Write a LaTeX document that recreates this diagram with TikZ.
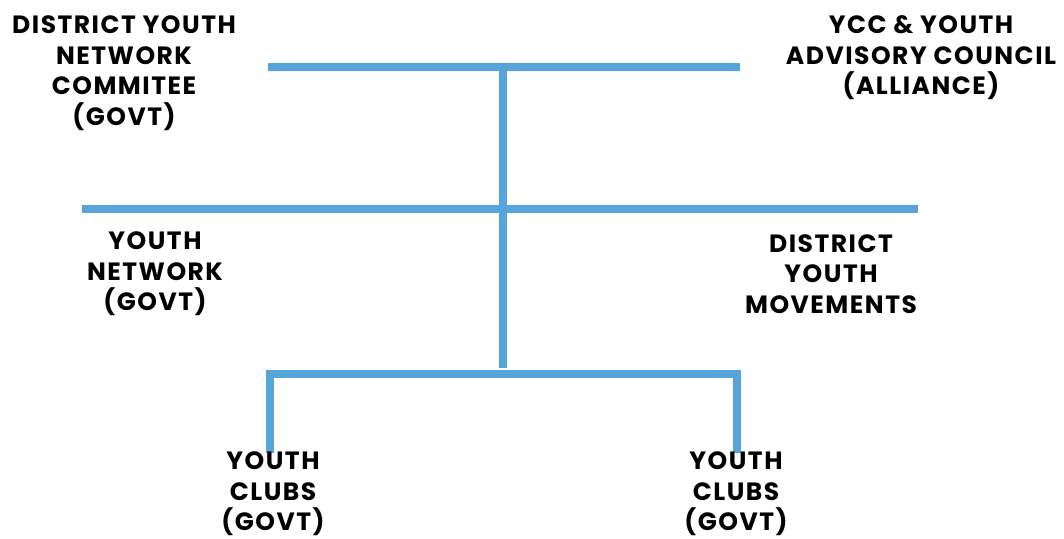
\documentclass[tikz,border=0pt]{standalone}
\usepackage{fontspec}
\setmainfont{Poppins}[BoldFont={* Bold},BoldFeatures={LetterSpace=6}]
\begin{document}
\begin{tikzpicture}[x=1pt,y=-1pt,
  conn/.style={draw=lineblue,line width=8pt},
  lbl/.style={align=center,font=\fontsize{25}{30.5}\selectfont\bfseries,text=black,inner sep=0pt}]
\definecolor{lineblue}{HTML}{55A5DA}
\useasboundingbox (0,0) rectangle (1064,538);
% coordinates
\coordinate (t1) at (268,67);
\coordinate (t2) at (740,67);
\coordinate (tc) at (503,63);
\coordinate (m1) at (82,209);
\coordinate (m2) at (918,209);
\coordinate (mc) at (503,368);
\coordinate (bl) at (270,449);
\coordinate (br) at (737,449);
\coordinate (blc) at (270,374);
\coordinate (brc) at (737,374);
% lines
\draw[conn] (t1) -- (t2);
\draw[conn] (tc) -- (mc);
\draw[conn] (m1) -- (m2);
\draw[conn,line cap=rect] (bl) -- (blc) -- (brc) -- (br);
% labels
\node[lbl] (dync) at (124,73) {DISTRICT YOUTH\\NETWORK\\COMMITEE\\(GOVT)};
\node[lbl] (ycc) at (921,58) {YCC \& YOUTH\\ADVISORY COUNCIL\\(ALLIANCE)};
\node[lbl] (yn) at (155,274) {YOUTH\\NETWORK\\(GOVT)};
\node[lbl] (dym) at (831,274) {DISTRICT\\YOUTH\\MOVEMENTS};
\node[lbl] (yc1) at (273,494) {YOUTH\\CLUBS\\(GOVT)};
\node[lbl] (yc2) at (736,494) {YOUTH\\CLUBS\\(GOVT)};
\end{tikzpicture}
\end{document}
